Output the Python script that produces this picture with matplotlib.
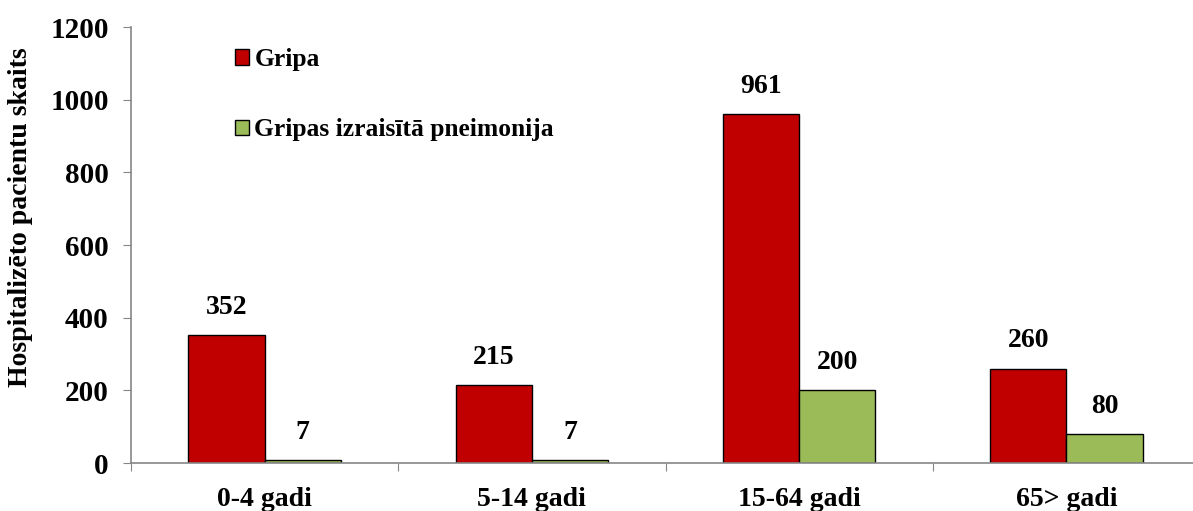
import numpy as np
import matplotlib
matplotlib.use("Agg")
import matplotlib.pyplot as plt
from matplotlib.ticker import FixedLocator, NullFormatter

# ── Data ───────────────────────────────────────────────────────────────────────
categories = ["0-4 gadi", "5-14 gadi", "15-64 gadi", "65> gadi"]
gripa = [352, 215, 961, 260]
pneimonija = [7, 7, 200, 80]
series_names = ["Gripa", "Gripas izraisītā pneimonija"]
y_ticks = [0, 200, 400, 600, 800, 1000, 1200]

RED = "#C00000"
GREEN = "#9BBB59"
AXIS_GREY = "#868686"

plt.rcParams["font.family"] = ["Liberation Serif", "DejaVu Serif"]
plt.rcParams["font.weight"] = "bold"

fig = plt.figure(figsize=(11.93, 5.11), dpi=100)
ax = fig.add_axes([131 / 1193, 48 / 511, 1069 / 1193, 436 / 511])

x = np.arange(len(categories))
width = 1 / 3.5  # Excel gap width 150%

b1 = ax.bar(x - width / 2, gripa, width, color=RED, edgecolor="black",
            linewidth=1.0, label=series_names[0])
b2 = ax.bar(x + width / 2, pneimonija, width, color=GREEN, edgecolor="black",
            linewidth=1.0, label=series_names[1])

for bars, vals in ((b1, gripa), (b2, pneimonija)):
    for rect, v in zip(bars, vals):
        ax.annotate(str(v), (rect.get_x() + rect.get_width() / 2, rect.get_height()),
                    xytext=(0, 11), textcoords="offset points",
                    ha="center", va="bottom", fontsize=20, fontweight="bold")

ax.set_xlim(-0.5, len(categories) - 0.5)
ax.set_ylim(0, 1200)
ax.set_yticks(y_ticks)
ax.set_yticklabels([str(t) for t in y_ticks])

# boundaries get the tick marks, centres get the labels
ax.xaxis.set_major_locator(FixedLocator(np.arange(len(categories) + 1) - 0.5))
ax.xaxis.set_major_formatter(NullFormatter())
ax.xaxis.set_minor_locator(FixedLocator(x))
ax.set_xticklabels(categories, minor=True)
ax.tick_params(axis="x", which="major", length=6, color=AXIS_GREY, direction="out")
ax.tick_params(axis="x", which="minor", length=0, pad=17, labelsize=20)
ax.tick_params(axis="y", length=6, color=AXIS_GREY, direction="out", pad=10, labelsize=21)

for s in ("top", "right"):
    ax.spines[s].set_visible(False)
for s in ("left", "bottom"):
    ax.spines[s].set_color(AXIS_GREY)
    ax.spines[s].set_linewidth(1.2)

ax.set_ylabel("Hospitalizēto pacientu skaits", fontsize=20, fontweight="bold")
ax.yaxis.set_label_coords(-98 / 1069, 0.564)

ax.legend(loc="upper left", bbox_to_anchor=(0.088, 0.975), frameon=False,
          fontsize=18.4, handlelength=0.55, handleheight=0.55, handletextpad=0.2,
          labelspacing=1.85, borderaxespad=0)

fig.savefig("out.png", dpi=100)
